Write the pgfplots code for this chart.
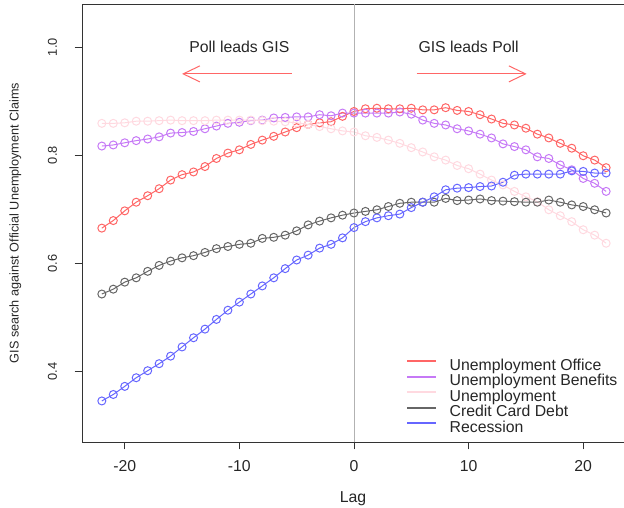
\documentclass[border=0pt]{standalone}
\usepackage{fontspec}
\setmainfont{Liberation Sans}
\usepackage{pgfplots}
\pgfplotsset{compat=1.18}
\usetikzlibrary{arrows.meta}
\definecolor{cRed}{RGB}{255,102,102}
\definecolor{cPur}{RGB}{198,121,246}
\definecolor{cPink}{RGB}{255,217,224}
\definecolor{cBlk}{RGB}{102,102,102}
\definecolor{cBlu}{RGB}{102,102,255}
\pgfplotstableread{
lag office benefits unemp credit recession
-22 0.665 0.817 0.859 0.543 0.345
-21 0.679 0.819 0.859 0.552 0.357
-20 0.697 0.823 0.860 0.565 0.372
-19 0.713 0.827 0.863 0.573 0.388
-18 0.725 0.830 0.863 0.585 0.401
-17 0.738 0.834 0.864 0.596 0.414
-16 0.754 0.841 0.865 0.604 0.428
-15 0.764 0.842 0.864 0.610 0.445
-14 0.769 0.844 0.864 0.614 0.462
-13 0.779 0.849 0.864 0.620 0.478
-12 0.794 0.854 0.865 0.627 0.496
-11 0.804 0.859 0.865 0.631 0.513
-10 0.810 0.861 0.865 0.635 0.528
-9 0.820 0.864 0.865 0.637 0.543
-8 0.828 0.865 0.864 0.646 0.558
-7 0.835 0.869 0.863 0.648 0.573
-6 0.843 0.870 0.862 0.652 0.590
-5 0.851 0.871 0.860 0.660 0.606
-4 0.857 0.871 0.857 0.671 0.615
-3 0.860 0.875 0.853 0.678 0.628
-2 0.862 0.873 0.849 0.684 0.635
-1 0.872 0.878 0.845 0.689 0.647
0 0.881 0.878 0.843 0.693 0.666
1 0.886 0.878 0.836 0.696 0.677
2 0.887 0.878 0.833 0.699 0.684
3 0.886 0.878 0.828 0.705 0.688
4 0.886 0.880 0.822 0.711 0.691
5 0.887 0.876 0.814 0.713 0.703
6 0.884 0.865 0.806 0.713 0.713
7 0.884 0.859 0.797 0.713 0.723
8 0.888 0.856 0.791 0.720 0.736
9 0.883 0.849 0.781 0.716 0.739
10 0.881 0.845 0.775 0.717 0.740
11 0.875 0.839 0.765 0.719 0.742
12 0.867 0.832 0.754 0.716 0.743
13 0.859 0.821 0.745 0.715 0.750
14 0.856 0.816 0.733 0.714 0.763
15 0.850 0.810 0.723 0.713 0.765
16 0.839 0.797 0.714 0.713 0.765
17 0.832 0.794 0.699 0.717 0.765
18 0.822 0.782 0.688 0.713 0.765
19 0.813 0.773 0.677 0.708 0.771
20 0.799 0.757 0.662 0.705 0.770
21 0.791 0.748 0.652 0.699 0.767
22 0.777 0.733 0.637 0.693 0.767
}\datatable
\begin{document}
\begin{tikzpicture}
\begin{axis}[
  at={(0pt,0pt)}, anchor=south west,
  scale only axis, width=406.5pt, height=328.5pt,
  xmin=-23.73, xmax=23.56, ymin=0.269, ymax=1.080,
  axis line style={black!80, line width=0.6pt},
  xtick={-20,-10,0,10,20}, xticklabels={-20,-10,0,10,20},
  ytick={0.4,0.6,0.8,1.0}, yticklabels={0.4,0.6,0.8,1.0},
  tick align=outside, tickpos=left, major tick length=5.5pt,
  tick style={black!80, line width=0.6pt},
  xticklabel style={font=\fontsize{11.85}{13}\selectfont, text=black!85, inner sep=0pt, anchor=north},
  xticklabel shift=8pt,
  yticklabel style={font=\fontsize{9.6}{11}\selectfont, text=black!85, inner sep=0pt, rotate=90, anchor=south},
  yticklabel shift=13pt,
  xlabel={Lag},
  ylabel={GIS search against Official Unemployment Claims},
  every axis x label/.style={at={(axis description cs:0.5,-0.130)}, anchor=center, font=\fontsize{11.85}{13}\selectfont, text=black!85},
  every axis y label/.style={at={(axis description cs:-0.123,0.5)}, rotate=90, anchor=center, font=\fontsize{9.5}{11}\selectfont, text=black!85},
  clip=false,
  legend cell align=left,
  legend image code/.code={\draw[#1, line width=1.3pt] (0pt,3.2pt) -- (21.75pt,3.2pt);},
  legend style={at={(rel axis cs:0.5978,0.0114)}, anchor=south west, draw=none, fill=none, inner sep=0pt,
    font=\fontsize{11.85}{11.55}\selectfont, text=black!85,
    /tikz/every odd column/.append style={column sep=7.5pt}, row sep=-2.5pt},
  every axis plot/.append style={line width=0.75pt, mark=o, mark size=3pt},
]
\addplot[color=cRed] table[x=lag, y=office] {\datatable};
\addlegendentry{Unemployment Office}
\addplot[color=cPur] table[x=lag, y=benefits] {\datatable};
\addlegendentry{Unemployment Benefits}
\addplot[color=cPink] table[x=lag, y=unemp] {\datatable};
\addlegendentry{Unemployment}
\addplot[color=cBlk] table[x=lag, y=credit] {\datatable};
\addlegendentry{Credit Card Debt}
\addplot[color=cBlu] table[x=lag, y=recession] {\datatable};
\addlegendentry{Recession}
\draw[color=black!30, line width=0.6pt] (axis cs:0,0.269) -- (axis cs:0,1.080);
\draw[color=cRed, line width=0.75pt, -{Straight Barb[length=12.5pt,width=12pt]}] (axis cs:-5.44,0.9506) -- (axis cs:-15.0,0.9506);
\draw[color=cRed, line width=0.75pt, -{Straight Barb[length=12.5pt,width=12pt]}] (axis cs:5.47,0.9506) -- (axis cs:15.07,0.9506);
\node[font=\fontsize{11.85}{13}\selectfont, text=black!85] at (axis cs:-10,1.0) {Poll leads GIS};
\node[font=\fontsize{11.85}{13}\selectfont, text=black!85] at (axis cs:10,1.0) {GIS leads Poll};
\end{axis}
\pgfresetboundingbox
\path[use as bounding box] (-61.5pt,-48.75pt) rectangle (406.5pt,331.5pt);
\end{tikzpicture}
\end{document}
